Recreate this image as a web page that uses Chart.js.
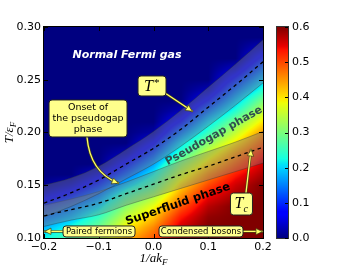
<!DOCTYPE html>
<html><head><meta charset="utf-8">
<script src="https://cdn.jsdelivr.net/npm/chart.js@4"></script>
<style>html,body{margin:0;padding:0;background:#fff;}</style>
</head><body>
<canvas id="c" width="354" height="265"></canvas>
<script>
// ---------- data ----------
const xGrid = [-0.2, -0.15, -0.1, -0.05, 0.0, 0.05, 0.1, 0.15, 0.2];      // 1/ak_F
const tGrid = [0.30,0.29,0.28,0.27,0.26,0.25,0.24,0.23,0.22,0.21,0.20,
               0.19,0.18,0.17,0.16,0.15,0.14,0.13,0.12,0.11,0.10];         // T/eF
const gapValues = [
  [0,0,0,0,0,0,0,0,0],
  [0,0,0,0,0,0,0,0,0],
  [0,0,0,0,0,0,0,0,0.04],
  [0,0,0,0,0,0,0,0,0.09],
  [0,0,0,0,0,0,0,0.04,0.14],
  [0,0,0,0,0,0,0,0.09,0.19],
  [0,0,0,0,0,0,0.03,0.14,0.24],
  [0,0,0,0,0,0,0.08,0.19,0.30],
  [0,0,0,0,0,0.03,0.14,0.24,0.35],
  [0,0,0,0,0,0.08,0.20,0.30,0.40],
  [0,0,0,0,0.02,0.14,0.25,0.35,0.45],
  [0,0,0,0,0.07,0.20,0.31,0.40,0.49],
  [0,0,0,0.03,0.12,0.25,0.36,0.45,0.53],
  [0,0,0,0.08,0.17,0.31,0.41,0.49,0.56],
  [0,0,0.05,0.13,0.22,0.36,0.46,0.53,0.58],
  [0.01,0.04,0.10,0.19,0.27,0.41,0.50,0.56,0.60],
  [0.05,0.09,0.15,0.26,0.33,0.45,0.54,0.58,0.60],
  [0.10,0.14,0.20,0.31,0.38,0.49,0.57,0.60,0.60],
  [0.14,0.18,0.25,0.35,0.42,0.53,0.59,0.60,0.60],
  [0.18,0.23,0.29,0.39,0.46,0.56,0.60,0.60,0.60],
  [0.22,0.27,0.33,0.43,0.49,0.58,0.60,0.60,0.60]
];
const tStar     = [0.133,0.143,0.155,0.170,0.185,0.203,0.224,0.245,0.267];
const tStarHigh = [0.150,0.157,0.168,0.184,0.201,0.221,0.243,0.265,0.288];
const tStarLow  = [0.120,0.130,0.142,0.156,0.170,0.187,0.206,0.226,0.247];
const tCrit     = [0.121,0.127,0.133,0.142,0.151,0.160,0.168,0.177,0.186];
const tCritHigh = [0.131,0.137,0.144,0.153,0.163,0.173,0.182,0.191,0.201];
const tCritLow  = [0.111,0.117,0.122,0.131,0.139,0.147,0.155,0.163,0.171];
const xTicks  = [-0.2,-0.1,0.0,0.1,0.2];
const yTicks  = [0.10,0.15,0.20,0.25,0.30];
const cbTicks = [0.0,0.1,0.2,0.3,0.4,0.5,0.6];

// ---------- helpers ----------
const SANS = '"DejaVu Sans", sans-serif';
const SERIF = '"Liberation Serif", "DejaVu Serif", serif';
const R=[[0,0],[0.35,0],[0.66,1],[0.89,1],[1,0.5]];
const G=[[0,0],[0.125,0],[0.375,1],[0.64,1],[0.91,0],[1,0]];
const B=[[0,0.5],[0.11,1],[0.34,1],[0.65,0],[1,0]];
function seg(p,f){for(let i=1;i<p.length;i++){if(f<=p[i][0]){const a=p[i-1],b=p[i];return a[1]+(b[1]-a[1])*(f-a[0])/(b[0]-a[0]);}}return p[p.length-1][1];}
function jet(v){const f=Math.max(0,Math.min(1,v/0.6));return [seg(R,f)*255,seg(G,f)*255,seg(B,f)*255];}
function field(x,t){
  let fx=(x-xGrid[0])/(xGrid[1]-xGrid[0]); fx=Math.max(0,Math.min(xGrid.length-1,fx));
  let fy=(tGrid[0]-t)/(tGrid[0]-tGrid[1]); fy=Math.max(0,Math.min(tGrid.length-1,fy));
  const i0=Math.min(Math.floor(fx),xGrid.length-2), j0=Math.min(Math.floor(fy),tGrid.length-2);
  const u=fx-i0, w=fy-j0;
  const a=gapValues[j0][i0], b=gapValues[j0][i0+1], c=gapValues[j0+1][i0], d=gapValues[j0+1][i0+1];
  return a*(1-u)*(1-w)+b*u*(1-w)+c*(1-u)*w+d*u*w;
}
const pts = arr => xGrid.map((x,i)=>({x, y:arr[i]}));
const BAND = 'rgba(120,125,125,0.42)', EDGE='rgba(40,50,50,0.45)', BOX='#ffff8c';

function roundBox(ctx,cx,cy,w,h,r){
  const x=cx-w/2,y=cy-h/2;
  ctx.beginPath();ctx.moveTo(x+r,y);ctx.lineTo(x+w-r,y);ctx.arcTo(x+w,y,x+w,y+r,r);
  ctx.lineTo(x+w,y+h-r);ctx.arcTo(x+w,y+h,x+w-r,y+h,r);ctx.lineTo(x+r,y+h);
  ctx.arcTo(x,y+h,x,y+h-r,r);ctx.lineTo(x,y+r);ctx.arcTo(x,y,x+r,y,r);ctx.closePath();
  ctx.fillStyle=BOX;ctx.fill();ctx.lineWidth=1;ctx.strokeStyle='#222';ctx.stroke();
}
function arrow(ctx,s,e,c){
  ctx.save();ctx.lineCap='round';
  const path=()=>{ctx.beginPath();ctx.moveTo(s[0],s[1]);if(c)ctx.quadraticCurveTo(c[0],c[1],e[0],e[1]);else ctx.lineTo(e[0],e[1]);};
  path();ctx.strokeStyle='rgba(70,70,20,0.9)';ctx.lineWidth=2.6;ctx.stroke();
  path();ctx.strokeStyle='#ffff66';ctx.lineWidth=1.3;ctx.stroke();
  const from=c||s;const ang=Math.atan2(e[1]-from[1],e[0]-from[0]);
  const L=6,H=3;
  ctx.beginPath();ctx.moveTo(e[0],e[1]);
  ctx.lineTo(e[0]-L*Math.cos(ang)+H*Math.sin(ang),e[1]-L*Math.sin(ang)-H*Math.cos(ang));
  ctx.lineTo(e[0]-L*Math.cos(ang)-H*Math.sin(ang),e[1]-L*Math.sin(ang)+H*Math.cos(ang));
  ctx.closePath();ctx.fillStyle='#ffff66';ctx.fill();ctx.strokeStyle='rgba(70,70,20,0.9)';ctx.lineWidth=0.8;ctx.stroke();
  ctx.restore();
}

const heatmapPlugin={
  id:'heatmap',
  beforeDatasetsDraw(chart){
    const {ctx,chartArea:a,scales:{x,y}}=chart;
    const w=Math.round(a.right-a.left),h=Math.round(a.bottom-a.top);
    const off=document.createElement('canvas');off.width=w;off.height=h;
    const octx=off.getContext('2d');const img=octx.createImageData(w,h);
    for(let py=0;py<h;py++){const t=y.getValueForPixel(a.top+py+0.5);
      for(let px=0;px<w;px++){const xv=x.getValueForPixel(a.left+px+0.5);
        const c=jet(field(xv,t));const k=(py*w+px)*4;
        img.data[k]=c[0];img.data[k+1]=c[1];img.data[k+2]=c[2];img.data[k+3]=255;}}
    octx.putImageData(img,0,0);ctx.drawImage(off,a.left,a.top);
  }
};

const decorPlugin={
  id:'decor',
  afterDraw(chart){
    const {ctx,chartArea:a,scales:{x,y,cb}}=chart;
    const P=(xv,tv)=>[x.getPixelForValue(xv),y.getPixelForValue(tv)];
    ctx.save();
    // frame + inner ticks
    ctx.strokeStyle='#000';ctx.lineWidth=1;
    ctx.strokeRect(a.left-0.5,a.top-0.5,a.right-a.left+1,a.bottom-a.top+1);
    ctx.beginPath();
    xTicks.forEach(v=>{const p=Math.round(x.getPixelForValue(v))+0.5;ctx.moveTo(p,a.bottom);ctx.lineTo(p,a.bottom-4);ctx.moveTo(p,a.top);ctx.lineTo(p,a.top+4);});
    yTicks.forEach(v=>{const p=Math.round(y.getPixelForValue(v))+0.5;ctx.moveTo(a.left,p);ctx.lineTo(a.left+4,p);ctx.moveTo(a.right,p);ctx.lineTo(a.right-4,p);});
    ctx.stroke();
    // colorbar
    const bx=cb.left+14,bw=11;
    const yTop=Math.round(cb.getPixelForValue(0.6)),yBot=Math.round(cb.getPixelForValue(0));
    for(let py=yTop;py<=yBot;py++){const c=jet(cb.getValueForPixel(py+0.5));ctx.fillStyle=`rgb(${c[0]|0},${c[1]|0},${c[2]|0})`;ctx.fillRect(bx,py,bw,1);}
    ctx.strokeStyle='#333';ctx.strokeRect(bx-0.5,yTop-0.5,bw+1,yBot-yTop+1);
    ctx.beginPath();cbTicks.forEach(v=>{const p=Math.round(cb.getPixelForValue(v))+0.5;ctx.moveTo(bx+bw,p);ctx.lineTo(bx+bw-3,p);});
    ctx.strokeStyle='#000';ctx.stroke();
    // axis titles
    ctx.fillStyle='#000';ctx.textBaseline='alphabetic';
    ctx.font='italic 13px '+SERIF;
    const xt='1/ak',xw=ctx.measureText(xt).width;ctx.font='italic 9px '+SERIF;const fw=ctx.measureText('F').width;
    const xc=(a.left+a.right)/2, xb=262;
    ctx.font='italic 13px '+SERIF;ctx.textAlign='left';ctx.fillText(xt,xc-(xw+fw)/2,xb);
    ctx.font='italic 9px '+SERIF;ctx.fillText('F',xc-(xw+fw)/2+xw,xb+2.5);
    ctx.save();ctx.translate(13,(a.top+a.bottom)/2);ctx.rotate(-Math.PI/2);
    ctx.font='italic 13px '+SERIF;const yt='T/ε',yw=ctx.measureText(yt).width;
    ctx.fillText(yt,-(yw+fw)/2,0);ctx.font='italic 9px '+SERIF;ctx.fillText('F',-(yw+fw)/2+yw,2.5);
    ctx.restore();
    // annotations
    ctx.textAlign='center';ctx.textBaseline='middle';
    let p=P(-0.0484,0.2735);ctx.font='italic bold 11px '+SANS;ctx.fillStyle='#fff';ctx.fillText('Normal Fermi gas',p[0],p[1]);
    // T* box
    arrow(ctx,P(0.021,0.2374),P(0.0703,0.2204));
    p=P(-0.0027,0.2441);roundBox(ctx,p[0],p[1],28,20,3);
    ctx.fillStyle='#000';ctx.font='italic 16px '+SERIF;ctx.textAlign='left';
    ctx.fillText('T',p[0]-8,p[1]+1);ctx.font='11px '+SERIF;ctx.fillText('*',p[0]+2,p[1]-3);
    // Onset box
    arrow(ctx,P(-0.1215,0.1957),P(-0.0648,0.1521),P(-0.116,0.1626));
    p=P(-0.1196,0.2133);roundBox(ctx,p[0],p[1],78,37,3);
    ctx.textAlign='center';ctx.fillStyle='#000';ctx.font='9.5px '+SANS;
    ctx.fillText('Onset of',p[0],p[1]-11);ctx.fillText('the pseudogap',p[0],p[1]);ctx.fillText('phase',p[0],p[1]+11);
    // phase labels
    p=P(0.1105,0.1967);ctx.save();ctx.translate(p[0],p[1]);ctx.rotate(-29.5*Math.PI/180);
    ctx.font='bold 11px '+SANS;ctx.fillStyle='#2f4f4f';ctx.fillText('Pseudogap phase',0,0);ctx.restore();
    p=P(0.0447,0.1320);ctx.save();ctx.translate(p[0],p[1]);ctx.rotate(-19*Math.PI/180);
    ctx.font='bold 11.5px '+SANS;ctx.fillStyle='#000';ctx.fillText('Superfluid phase',0,0);ctx.restore();
    // Tc box
    arrow(ctx,P(0.1689,0.1427),P(0.1781,0.1834));
    p=P(0.1607,0.1322);roundBox(ctx,p[0],p[1],22,22,3);
    ctx.fillStyle='#000';ctx.textAlign='left';ctx.font='italic 16px '+SERIF;ctx.fillText('T',p[0]-7,p[1]);
    ctx.font='italic 10px '+SERIF;ctx.fillText('c',p[0]+2,p[1]+5);
    // bottom boxes
    arrow(ctx,P(-0.1653,0.1062),P(-0.1982,0.1062));
    arrow(ctx,P(0.1635,0.1062),P(0.1982,0.1062));
    ctx.textAlign='center';ctx.font='8.5px '+SANS;
    p=P(-0.0995,0.1062);roundBox(ctx,p[0],p[1],72,11,3);ctx.fillStyle='#000';ctx.fillText('Paired fermions',p[0],p[1]+0.5);
    p=P(0.0868,0.1062);roundBox(ctx,p[0],p[1],84,11,3);ctx.fillStyle='#000';ctx.fillText('Condensed bosons',p[0],p[1]+0.5);
    ctx.restore();
  }
};

const fitV=w=>s=>{s.width=w;s.paddingTop=0;s.paddingBottom=0;};
const lineBase={pointRadius:0,borderWidth:0.8,borderColor:EDGE,cubicInterpolationMode:'monotone',order:2};
new Chart(document.getElementById('c'),{
  type:'line',
  data:{datasets:[
    {...lineBase,label:'T* upper',data:pts(tStarHigh),fill:false},
    {...lineBase,label:'T* lower',data:pts(tStarLow),fill:'-1',backgroundColor:BAND},
    {...lineBase,label:'Tc upper',data:pts(tCritHigh),fill:false},
    {...lineBase,label:'Tc lower',data:pts(tCritLow),fill:'-1',backgroundColor:BAND},
    {label:'T*',data:pts(tStar),pointRadius:0,borderColor:'#000',borderWidth:1.3,borderDash:[3.5,3.5],fill:false,cubicInterpolationMode:'monotone',order:0},
    {label:'Tc',data:pts(tCrit),pointRadius:0,borderColor:'#000',borderWidth:1.3,borderDash:[3.5,3.5],fill:false,cubicInterpolationMode:'monotone',order:0}
  ]},
  options:{
    responsive:false,animation:false,devicePixelRatio:1,
    layout:{padding:{top:27,left:0,right:0,bottom:0}},
    plugins:{legend:{display:false},tooltip:{enabled:false}},
    scales:{
      x:{type:'linear',min:-0.2,max:0.2,afterFit:s=>{s.height=27;s.paddingLeft=0;s.paddingRight=0;},
         afterBuildTicks:s=>{s.ticks=xTicks.map(v=>({value:v}));},
         ticks:{color:'#000',font:{family:SANS,size:11},padding:3,maxRotation:0,autoSkip:false,
                callback:v=>(v<-1e-9?'\u2212':'')+Math.abs(v).toFixed(1)},
         grid:{display:false,drawTicks:false},border:{display:false}},
      y:{type:'linear',min:0.10,max:0.30,afterFit:fitV(44),
         afterBuildTicks:s=>{s.ticks=yTicks.map(v=>({value:v}));},
         ticks:{color:'#000',font:{family:SANS,size:11},padding:3,autoSkip:false,callback:v=>v.toFixed(2)},
         grid:{display:false,drawTicks:false},border:{display:false}},
      cb:{type:'linear',position:'right',min:0,max:0.6,afterFit:fitV(91),
         afterBuildTicks:s=>{s.ticks=cbTicks.map(v=>({value:v}));},
         ticks:{color:'#000',font:{family:SANS,size:11},padding:29,autoSkip:false,callback:v=>v.toFixed(1)},
         grid:{display:false,drawTicks:false},border:{display:false}}
    }
  },
  plugins:[heatmapPlugin,decorPlugin]
});
</script>
</body></html>
